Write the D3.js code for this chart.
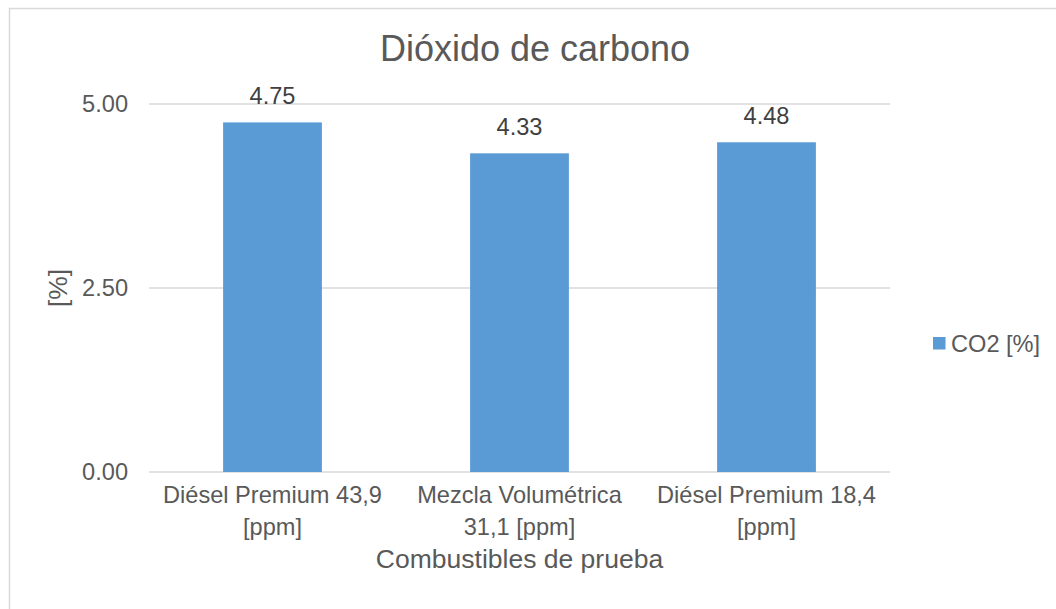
<!DOCTYPE html>
<html>
<head>
<meta charset="utf-8">
<script src="https://cdn.jsdelivr.net/npm/d3@7"></script>
<style>
  html, body { margin: 0; padding: 0; background: #fff; }
  svg { display: block; font-family: "Liberation Sans", Arial, sans-serif; }
</style>
</head>
<body>
<svg id="chart" width="1056" height="609"></svg>
<script>
// CO2 measurements per test fuel
const categories = ["Diésel Premium 43,9 [ppm]", "Mezcla Volumétrica 31,1 [ppm]", "Diésel Premium 18,4 [ppm]"];
const co2Values = [4.75, 4.33, 4.48];
const yTicks = [0, 2.5, 5];
const seriesName = "CO2 [%]";
const chartTitle = "Dióxido de carbono";
const xTitle = "Combustibles de prueba";
const yTitle = "[%]";

const textColor = "#595959";
const barColor = "#5B9BD5";
const gridColor = "#D9D9D9";

const svg = d3.select("#chart");

// outer chart border
svg.append("rect")
  .attr("x", 9.5).attr("y", 8.5)
  .attr("width", 1100).attr("height", 700)
  .attr("fill", "#fff")
  .attr("stroke", gridColor).attr("stroke-width", 1.5);

const plot = { left: 149, right: 890, top: 104, bottom: 472 };

const x = d3.scaleBand()
  .domain(categories)
  .range([plot.left, plot.right])
  .padding(0);

const y = d3.scaleLinear()
  .domain([0, 5])
  .range([plot.bottom, plot.top]);

// horizontal gridlines
svg.append("g")
  .selectAll("line")
  .data(yTicks)
  .join("line")
  .attr("x1", plot.left).attr("x2", plot.right)
  .attr("y1", d => y(d)).attr("y2", d => y(d))
  .attr("stroke", gridColor).attr("stroke-width", 1.5);

// y tick labels
svg.append("g")
  .selectAll("text")
  .data(yTicks)
  .join("text")
  .attr("x", 128)
  .attr("y", d => y(d))
  .attr("dy", "0.35em")
  .attr("text-anchor", "end")
  .attr("fill", textColor)
  .attr("font-size", 23.6)
  .text(d3.format(".2f"));

// bars
const barW = x.bandwidth() * 0.4;
svg.append("g")
  .selectAll("rect")
  .data(co2Values)
  .join("rect")
  .attr("x", (d, i) => x(categories[i]) + (x.bandwidth() - barW) / 2)
  .attr("y", d => y(d))
  .attr("width", barW)
  .attr("height", d => y(0) - y(d))
  .attr("fill", barColor);

// value labels
svg.append("g")
  .selectAll("text")
  .data(co2Values)
  .join("text")
  .attr("x", (d, i) => x(categories[i]) + x.bandwidth() / 2)
  .attr("y", d => y(d) - 18)
  .attr("text-anchor", "middle")
  .attr("fill", "#404040")
  .attr("font-size", 23.6)
  .text(d3.format(".2f"));

// category labels, word-wrapped to the band width
const catG = svg.append("g");
categories.forEach(cat => {
  const t = catG.append("text")
    .attr("x", x(cat) + x.bandwidth() / 2)
    .attr("y", 503)
    .attr("text-anchor", "middle")
    .attr("fill", textColor)
    .attr("font-size", 23.6);
  const words = cat.split(" ");
  let lines = [];
  let line = [];
  const probe = t.append("tspan");
  words.forEach(w => {
    const test = line.concat(w).join(" ");
    probe.text(test);
    if (probe.node().getComputedTextLength() > x.bandwidth() - 10 && line.length) {
      lines.push(line.join(" "));
      line = [w];
    } else {
      line.push(w);
    }
  });
  lines.push(line.join(" "));
  probe.remove();
  lines.forEach((l, i) => {
    t.append("tspan")
      .attr("x", x(cat) + x.bandwidth() / 2)
      .attr("dy", i === 0 ? 0 : 32)
      .text(l);
  });
});

// chart title
svg.append("text")
  .attr("x", 535).attr("y", 61)
  .attr("text-anchor", "middle")
  .attr("fill", textColor)
  .attr("font-size", 36)
  .text(chartTitle);

// x axis title
svg.append("text")
  .attr("x", (plot.left + plot.right) / 2).attr("y", 568)
  .attr("text-anchor", "middle")
  .attr("fill", textColor)
  .attr("font-size", 26.5)
  .text(xTitle);

// y axis title
svg.append("text")
  .attr("transform", `translate(67,${(plot.top + plot.bottom) / 2}) rotate(-90)`)
  .attr("text-anchor", "middle")
  .attr("fill", textColor)
  .attr("font-size", 26.5)
  .text(yTitle);

// legend
const legend = svg.append("g").attr("transform", "translate(933,337)");
legend.append("rect")
  .attr("width", 12.5).attr("height", 12.5)
  .attr("fill", barColor);
legend.append("text")
  .attr("x", 18).attr("y", 14.5)
  .attr("fill", textColor)
  .attr("font-size", 23.6)
  .text(seriesName);
</script>
</body>
</html>
